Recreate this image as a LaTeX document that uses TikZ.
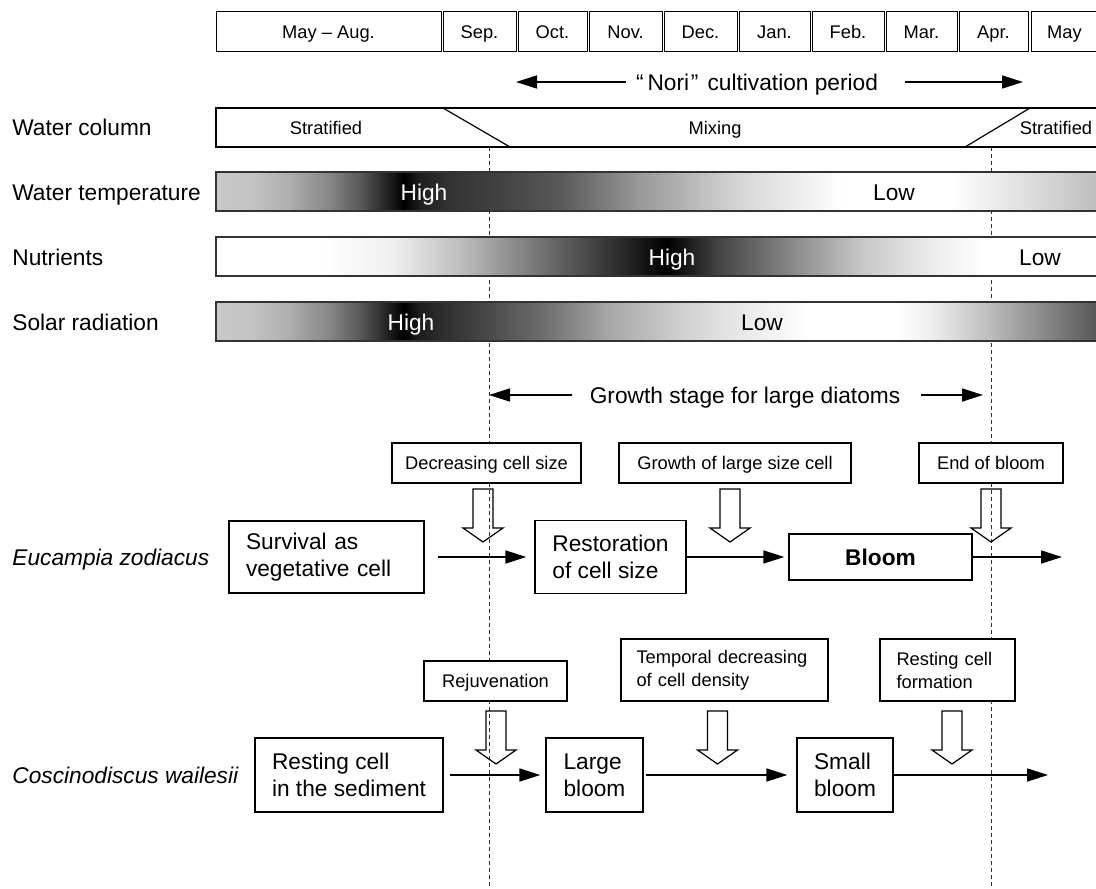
\documentclass[tikz,border=0pt]{standalone}
\usepackage{fontspec}
\setmainfont{Liberation Sans}
\usetikzlibrary{arrows.meta}

\newcommand\fontbig{\fontsize{11.35pt}{13.5pt}\selectfont}
\newcommand\fontsml{\fontsize{9.15pt}{11.5pt}\selectfont}

% seasonal gradients: 25bp = left end of a bar, 75bp = right end
\pgfdeclarehorizontalshading{wtemp}{100bp}{color(0bp)=(black!22); color(25bp)=(black!22); color(26.92bp)=(black!23); color(29.19bp)=(black!32); color(31.45bp)=(black!48); color(33.14bp)=(black!65); color(34.56bp)=(black!85); color(35.63bp)=(black); color(36.54bp)=(black!88); color(38.24bp)=(black!80); color(41.06bp)=(black!74); color(44.46bp)=(black!65); color(48.98bp)=(black!40); color(54.64bp)=(black!16); color(60.46bp)=(white); color(66.57bp)=(white); color(69.91bp)=(black!10); color(75bp)=(black!26); color(100bp)=(black!26)}
\pgfdeclarehorizontalshading{nutr}{100bp}{color(0bp)=(white); color(25bp)=(white); color(30.94bp)=(white); color(35.01bp)=(black!6); color(39.03bp)=(black!27); color(43.33bp)=(black!55); color(47.34bp)=(black!80); color(50.51bp)=(black); color(53.45bp)=(black!73); color(57.47bp)=(black!47); color(61.48bp)=(black!22); color(65.55bp)=(black!7); color(68.55bp)=(white); color(75bp)=(white); color(100bp)=(white)}
\pgfdeclarehorizontalshading{solar}{100bp}{color(0bp)=(black!22); color(25bp)=(black!22); color(26.92bp)=(black!23); color(29.19bp)=(black!32); color(31.45bp)=(black!48); color(33.14bp)=(black!65); color(34.56bp)=(black!85); color(35.63bp)=(black); color(36.54bp)=(black!88); color(38.80bp)=(black!78); color(43.33bp)=(black!58); color(47.34bp)=(black!34); color(51.41bp)=(black!18); color(55.43bp)=(black!7); color(58.48bp)=(white); color(63.52bp)=(white); color(65.55bp)=(black!7); color(68.55bp)=(black!25); color(71.61bp)=(black!45); color(75bp)=(black!67); color(100bp)=(black!67)}

\begin{document}
\begin{tikzpicture}[x=0.5pt, y=-0.5pt,
  capL/.style={text height=8.1pt, text depth=0pt},
  capS/.style={text height=6.55pt, text depth=0pt},
  lbl/.style={anchor=west, font=\fontbig, inner sep=0pt, capL},
  month/.style={draw, line width=0.5pt, minimum height=20pt, inner sep=0pt, font=\fontsml, capS},
  bar/.style={shade, draw=black!80, line width=0.6pt, minimum width=442pt, minimum height=19.5pt, inner sep=0pt},
  inbar/.style={font=\fontbig, inner sep=0pt, capL},
  guide/.style={black!80, line width=0.5pt, dash pattern=on 2pt off 1.5pt},
  flow/.style={line width=0.8pt, -{Triangle[length=10.5pt, width=6.5pt]}},
  bigbox/.style={draw, fill=white, line width=0.65pt, font=\fontbig, inner ysep=0pt},
  notebox/.style={draw, fill=white, line width=0.6pt, font=\fontsml, inner ysep=0pt},
  hollowdown/.pic={\draw[line width=0.6pt] (-10,0) -- (-10,39) -- (-20,39) -- (0,53) -- (20,39) -- (10,39) -- (10,0) -- cycle;}
]
\useasboundingbox (0,0) rectangle (1096,888);
\clip (0,0) rectangle (1096,888);

% vertical guides at the start and end of the growth stage
\coordinate (g1a) at (489,147); \coordinate (g1b) at (489,888);
\coordinate (g2a) at (991,147); \coordinate (g2b) at (991,888);
\draw[guide] (g1a) -- (g1b);
\draw[guide] (g2a) -- (g2b);

% month header
\node[month, minimum width=112.5pt] (m1)  at (328.5,32) {May – Aug.};
\node[month, minimum width=36.5pt]  (m2)  at (479.5,32) {Sep.};
\node[month, minimum width=34.5pt]  (m3)  at (552.5,32) {Oct.};
\node[month, minimum width=36.5pt]  (m4)  at (625.5,32) {Nov.};
\node[month, minimum width=36.5pt]  (m5)  at (700.5,32) {Dec.};
\node[month, minimum width=35.5pt]  (m6)  at (774.5,32) {Jan.};
\node[month, minimum width=36pt]    (m7)  at (848,32)   {Feb.};
\node[month, minimum width=35.5pt]  (m8)  at (921.5,32) {Mar.};
\node[month, minimum width=34.5pt]  (m9)  at (993.5,32) {Apr.};
\node[month, minimum width=33.5pt]  (m10) at (1064.5,32) {May};

% Nori season
\node[font=\fontbig, inner xsep=0pt, capL] (nori) at (757,82)
  {“\hspace{2pt}Nori\hspace{0.8pt}”\hspace{1.5pt} cultivation period};
\coordinate (noriL) at (516,82);
\coordinate (noriR) at (1023,82);
\draw[flow, shorten <=5pt] (nori.west) -- (noriL);
\draw[flow, shorten <=13.5pt] (nori.east) -- (noriR);

% row labels
\node[lbl] (lwc) at (12,127) {Water column};
\node[lbl] (lwt) at (12,192) {Water temperature};
\node[lbl] (lnu) at (12,257) {Nutrients};
\node[lbl] (lsr) at (12,322) {Solar radiation};
\node[lbl, font=\fontbig\itshape] (leu) at (12,557) {Eucampia zodiacus};
\node[lbl, font=\fontbig\itshape] (lco) at (12,775) {Coscinodiscus wailesii};

% water column
\node[draw, fill=white, line width=0.6pt, minimum width=442pt, minimum height=19.5pt, inner sep=0pt] (wc) at (658,127.5) {};
\draw[line width=0.6pt] (443,108) -- (510,147);
\draw[line width=0.6pt] (965,147) -- (1030,108);
\node[font=\fontsml, capS, inner sep=0pt] (wc1) at (326,128) {Stratified};
\node[font=\fontsml, capS, inner sep=0pt] (wc2) at (715,128) {Mixing};
\node[font=\fontsml, capS, inner sep=0pt] (wc3) at (1056,128) {Stratified};

% gradient bars
\node[bar, shading=wtemp] (bwt) at (658,191.5) {};
\node[bar, shading=nutr]  (bnu) at (658,256.5) {};
\node[bar, shading=solar] (bsr) at (658,321.5) {};
\node[inbar, text=white] (wthi) at (424,192) {High};
\node[inbar] (wtlo) at (894,192) {Low};
\node[inbar, text=white] (nuhi) at (672,257) {High};
\node[inbar] (nulo) at (1040,257) {Low};
\node[inbar, text=white] (srhi) at (411,322) {High};
\node[inbar] (srlo) at (762,322) {Low};

% growth stage
\node[font=\fontbig, inner xsep=0pt, capL] (grow) at (745,395) {Growth stage for large diatoms};
\coordinate (growL) at (489,395);
\coordinate (growR) at (983,395);
\draw[flow, shorten <=8.5pt] (grow.west) -- (growL);
\draw[flow, shorten <=10pt] (grow.east) -- (growR);

% Eucampia zodiacus
\node[notebox, minimum width=94.5pt, minimum height=20pt, capS] (dcs) at (486.5,463) {Decreasing cell size};
\node[notebox, minimum width=116pt, minimum height=20pt, capS] (glc) at (735,463) {Growth of large size cell};
\node[notebox, minimum width=72pt, minimum height=20pt, capS] (eob) at (991,463) {End of bloom};
\pic at (483,489) {hollowdown};
\pic at (730,489) {hollowdown};
\pic at (991,489) {hollowdown};

\node[bigbox, text width=80.5pt, inner xsep=8.5pt, align=left, minimum height=36pt] (surv) at (326.5,557) {Survival as\\vegetative cell};
\node[bigbox, align=left, minimum width=75.5pt, minimum height=36.5pt] (rest) at (610.5,557) {Restoration\\of cell size};
\node[bigbox, minimum width=91.5pt, minimum height=23pt, capL, font=\fontbig\bfseries] (bloom) at (880.5,557) {Bloom};
\coordinate (eend) at (1062,557);
\draw[flow, shorten <=6.5pt, shorten >=4pt] (surv.east) -- (rest.west);
\draw[flow, shorten >=2pt] (rest.east) -- (bloom.west);
\draw[flow] (bloom.east) -- (eend);

% Coscinodiscus wailesii
\node[notebox, minimum width=71.5pt, minimum height=20pt, capS] (rej) at (495.5,681) {Rejuvenation};
\node[notebox, text width=88pt, inner xsep=7.75pt, align=left, minimum height=31pt] (tdc) at (724.5,670) {Temporal decreasing\\of cell density};
\node[notebox, text width=51pt, inner xsep=8.25pt, align=left, minimum height=31pt] (rcf) at (947.5,670) {Resting cell\\formation};
\pic at (496,711) {hollowdown};
\pic at (717.5,711) {hollowdown};
\pic at (952,711) {hollowdown};

\node[bigbox, align=left, minimum width=94pt, minimum height=37pt] (rsed) at (349,775) {Resting cell\\in the sediment};
\node[bigbox, align=left, minimum width=48.5pt, minimum height=37pt] (lbm) at (594.5,775) {Large\\bloom};
\node[bigbox, align=left, minimum width=48pt, minimum height=37pt] (sbm) at (845,775) {Small\\bloom};
\coordinate (cend) at (1048,775);
\draw[flow, shorten <=3pt, shorten >=2.5pt] (rsed.east) -- (lbm.west);
\draw[flow, shorten <=1pt, shorten >=4.5pt] (lbm.east) -- (sbm.west);
\draw[flow] (sbm.east) -- (cend);
\end{tikzpicture}
\end{document}
